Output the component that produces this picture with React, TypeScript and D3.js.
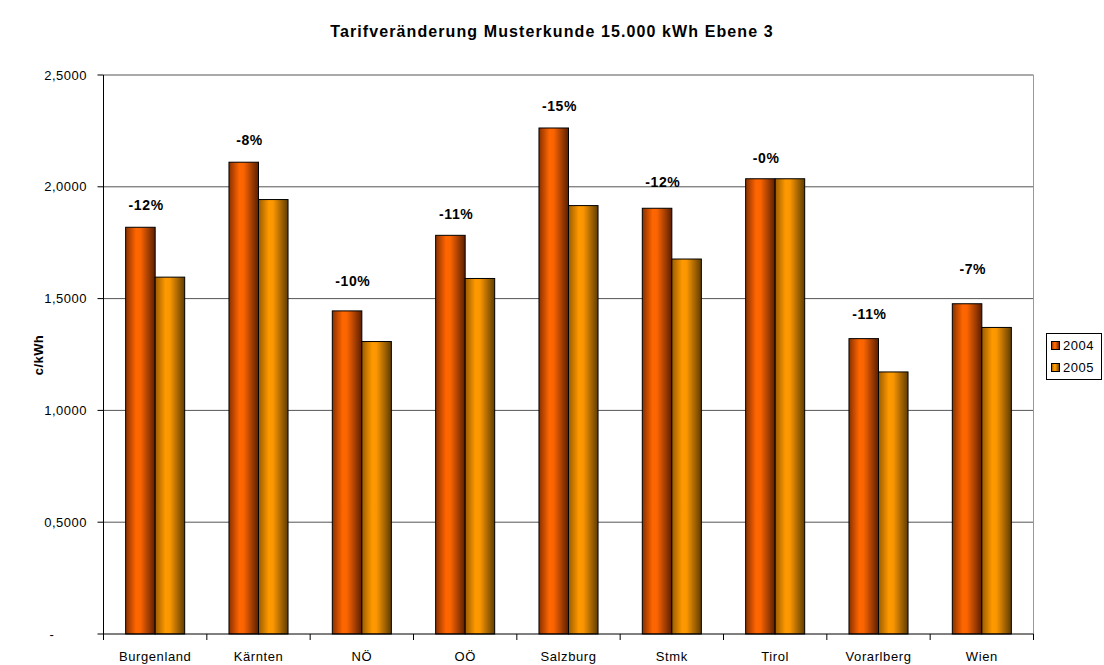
import * as d3 from 'd3';

const regions = ['Burgenland', 'Kärnten', 'NÖ', 'OÖ', 'Salzburg', 'Stmk', 'Tirol', 'Vorarlberg', 'Wien'];
const values2004 = [1.819, 2.11, 1.445, 1.783, 2.263, 1.904, 2.036, 1.321, 1.477];
const values2005 = [1.596, 1.943, 1.308, 1.59, 1.916, 1.677, 2.036, 1.172, 1.371];
const changeLabels = ['-12%', '-8%', '-10%', '-11%', '-15%', '-12%', '-0%', '-11%', '-7%'];
// height (in c/kWh) at which each change label sits
const labelLevels = [1.92, 2.21, 1.58, 1.88, 2.36, 2.02, 2.13, 1.43, 1.63];
const yTicks = [0, 0.5, 1, 1.5, 2, 2.5];
const series = ['2004', '2005'];

const W = 1104;
const H = 665;
const left = 103.5;
const right = 1033.5;
const top = 75;
const bottom = 634;
const font = 'Arial, "Liberation Sans", sans-serif';

const fmt = (v: number) => (v === 0 ? '-' : d3.format('.4f')(v).replace('.', ','));

const App = () => {
  const x = d3.scaleBand<string>().domain(regions).range([left, right]);
  const y = d3.scaleLinear().domain([0, 2.5]).range([bottom, top]);
  const bw = x.bandwidth() / 3.5;
  const inner = d3.scaleBand<string>().domain(series).range([0.75 * bw, 2.75 * bw]);

  return (
    <svg width={W} height={H} style={{ display: 'block', position: 'absolute', left: 0, top: 0 }}>
      <defs>
        <linearGradient id="g2004" x1="0" x2="1" y1="0" y2="0">
          <stop offset="0" stopColor="#8a3000" />
          <stop offset="0.35" stopColor="#ff6600" />
          <stop offset="0.5" stopColor="#fa6400" />
          <stop offset="1" stopColor="#5a1e00" />
        </linearGradient>
        <linearGradient id="g2005" x1="0" x2="1" y1="0" y2="0">
          <stop offset="0" stopColor="#9a5c00" />
          <stop offset="0.35" stopColor="#ff9900" />
          <stop offset="0.5" stopColor="#fa9600" />
          <stop offset="1" stopColor="#5e3c00" />
        </linearGradient>
      </defs>
      <rect width={W} height={H} fill="#fff" />
      <text
        x={552}
        y={31}
        dy="0.35em"
        textAnchor="middle"
        fontFamily={font}
        fontWeight="bold"
        fontSize={16}
        letterSpacing={1.1}
      >
        Tarifveränderung Musterkunde 15.000 kWh Ebene 3
      </text>

      {yTicks.map((t) => (
        <g key={t}>
          {t > 0 && <line x1={left} x2={right} y1={y(t)} y2={y(t)} stroke="#555" strokeWidth={1} />}
          <line x1={left - 6} x2={left} y1={y(t)} y2={y(t)} stroke="#000" />
          <text
            x={t === 0 ? 52 : 87}
            y={y(t)}
            dy="0.35em"
            textAnchor={t === 0 ? 'middle' : 'end'}
            fontFamily={font}
            fontSize={13}
            letterSpacing={0.5}
          >
            {fmt(t)}
          </text>
        </g>
      ))}
      <line x1={right} x2={right} y1={top} y2={bottom} stroke="#999" />

      {regions.map((r, i) => (
        <g key={r}>
          {[values2004[i], values2005[i]].map((v, j) => (
            <rect
              key={j}
              x={(x(r) as number) + (inner(series[j]) as number)}
              y={y(v)}
              width={inner.bandwidth()}
              height={bottom - y(v)}
              fill={`url(#g${series[j]})`}
              stroke="#000"
              strokeWidth={1}
            />
          ))}
          <text
            x={(x(r) as number) + x.bandwidth() / 2 - 9}
            y={y(labelLevels[i])}
            dy="0.35em"
            textAnchor="middle"
            fontFamily={font}
            fontWeight="bold"
            fontSize={14}
            letterSpacing={0.6}
          >
            {changeLabels[i]}
          </text>
          <text
            x={(x(r) as number) + x.bandwidth() / 2}
            y={656}
            dy="0.35em"
            textAnchor="middle"
            fontFamily={font}
            fontSize={13}
            letterSpacing={0.6}
          >
            {r}
          </text>
        </g>
      ))}

      {[...regions.map((r) => x(r) as number), right].map((px, i) => (
        <line key={i} x1={px} x2={px} y1={bottom} y2={bottom + 6} stroke="#000" />
      ))}
      <line x1={left} x2={right} y1={bottom} y2={bottom} stroke="#000" />
      <line x1={left} x2={left} y1={top} y2={bottom} stroke="#000" />

      <text
        transform={`translate(38,355) rotate(-90)`}
        textAnchor="middle"
        dy="0.35em"
        fontFamily={font}
        fontWeight="bold"
        fontSize={13}
        letterSpacing={0.4}
      >
        c/kWh
      </text>

      <rect x={1046.5} y={333.5} width={55} height={46} fill="#fff" stroke="#000" />
      {series.map((s, i) => (
        <g key={s}>
          <rect x={1051.5} y={341.5 + i * 22} width={8} height={8} fill={`url(#g${s})`} stroke="#000" />
          <text x={1063} y={345.5 + i * 22} dy="0.35em" fontFamily={font} fontSize={13} letterSpacing={0.5}>
            {s}
          </text>
        </g>
      ))}
    </svg>
  );
};

export default App;
